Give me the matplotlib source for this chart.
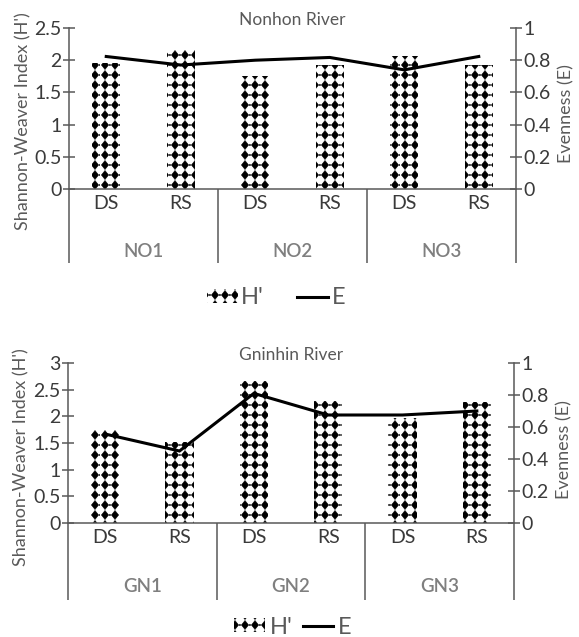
import numpy as np
import matplotlib
matplotlib.use('Agg')
import matplotlib.pyplot as plt
import matplotlib.hatch as mhatch
from matplotlib.path import Path
from matplotlib.ticker import FuncFormatter, MultipleLocator

# ---------------- data ----------------
categories = ['DS', 'RS', 'DS', 'RS', 'DS', 'RS']
groups_top = ['NO1', 'NO2', 'NO3']
groups_bot = ['GN1', 'GN2', 'GN3']
h_top = [1.96, 2.16, 1.76, 1.92, 2.06, 1.93]
e_top = [0.823, 0.77, 0.80, 0.817, 0.74, 0.823]
h_bot = [1.74, 1.52, 2.67, 2.29, 1.96, 2.27]
e_bot = [0.556, 0.45, 0.81, 0.675, 0.675, 0.70]


# ------------- custom diamond hatch ('*' replaced) -------------
class DiamondGrid(mhatch.HatchPatternBase):
    n = 10

    def __init__(self, hatch, density):
        on = hatch.count('*') > 0
        self.num_vertices = (self.n * self.n * 2 * 5) if on else 0

    def set_vertices_and_codes(self, vertices, codes):
        n = self.n
        step = 1.0 / n
        dia = np.array([[0, -0.45], [0.36, 0], [0, 0.45], [-0.36, 0], [0, -0.45]]) * step
        dot = np.array([[0, -0.08], [0.08, 0], [0, 0.08], [-0.08, 0], [0, -0.08]]) * step
        c = np.array([Path.MOVETO, Path.LINETO, Path.LINETO, Path.LINETO, Path.CLOSEPOLY],
                     dtype=Path.code_type)
        vparts, cparts = [], []
        for i in range(n):
            for j in range(n):
                cx = (i + 0.5) * step
                cy = (j + 0.5) * step
                vparts.append(dia + [cx, cy])
                cparts.append(c)
                vparts.append(dot + [(i + 1) * step - 0.001, cy])
                cparts.append(c)
        vertices[:] = np.concatenate(vparts)
        codes[:] = np.concatenate(cparts)


mhatch._hatch_types[:] = [t for t in mhatch._hatch_types if t is not mhatch.Stars] + [DiamondGrid]

plt.rcParams['font.family'] = ['Lato', 'DejaVu Sans']
plt.rcParams['hatch.linewidth'] = 0.35

AX = '#595959'
TICK = '#3a3a3a'
LAB = '#595959'
GRP = '#7f7f7f'

TICKFS = 14
LABFS = 13
TITLEFS = 12.5

fig = plt.figure(figsize=(5.79, 6.37), dpi=100)
W, H = 579.0, 637.0


def panel(left, right, ytop, ybot, div_bottom, title, h, e, groups, hmax,
          ylab_xy, rlab_xy, grp_y, leg_xy, colspacing, textpad):
    rect = [left / W, 1 - ybot / H, (right - left) / W, (ybot - ytop) / H]
    ax = fig.add_axes(rect)
    x = np.arange(len(categories))
    bars = ax.bar(x, h, width=0.38, color='white', edgecolor='black', linewidth=0,
                  hatch='*')
    ax.set_xlim(-0.5, len(categories) - 0.5)
    ax.set_ylim(0, hmax)
    ax.yaxis.set_major_locator(MultipleLocator(0.5))
    ax.yaxis.set_major_formatter(FuncFormatter(lambda v, p: f'{v:g}'))
    ax.set_xticks(x)
    ax.set_xticklabels(categories)
    ax.tick_params(axis='x', length=0, pad=4, labelsize=TICKFS, labelcolor=TICK)
    ax.tick_params(axis='y', direction='inout', length=8, width=1.1, color=AX,
                   labelsize=TICKFS, labelcolor=TICK, pad=1.5)
    for s in ['top', 'right']:
        ax.spines[s].set_visible(False)
    for s in ['left', 'bottom']:
        ax.spines[s].set_color(AX)
        ax.spines[s].set_linewidth(1.1)
    ax.set_title(title, fontsize=TITLEFS, color=LAB, pad=1)
    ax.set_ylabel("Shannon-Weaver Index (H')", fontsize=LABFS, color='#5a5a5a')
    ax.yaxis.label.set_verticalalignment('center')
    ax.yaxis.set_label_coords(*ylab_xy)

    # group dividers
    for b in np.arange(-0.5, len(categories), 2):
        ax.plot([b, b], [0, div_bottom], transform=ax.get_xaxis_transform(),
                clip_on=False, color=AX, lw=1.1, solid_capstyle='butt')
    for i, g in enumerate(groups):
        ax.text(2 * i + 0.5, grp_y, g, transform=ax.get_xaxis_transform(),
                ha='center', va='center', fontsize=13.5, color=GRP,
                fontweight='semibold')

    ax2 = ax.twinx()
    line, = ax2.plot(x, e, color='black', lw=2.2, solid_joinstyle='miter')
    ax2.set_ylim(0, 1)
    ax2.yaxis.set_major_locator(MultipleLocator(0.2))
    ax2.yaxis.set_major_formatter(FuncFormatter(lambda v, p: f'{v:g}'))
    ax2.tick_params(axis='y', direction='inout', length=8, width=1.1, color=AX,
                    labelsize=TICKFS, labelcolor=TICK, pad=1.5)
    for s in ['top', 'left', 'bottom']:
        ax2.spines[s].set_visible(False)
    ax2.spines['right'].set_color(AX)
    ax2.spines['right'].set_linewidth(1.1)
    ax2.set_ylabel('Evenness (E)', fontsize=LABFS, color='#5a5a5a')
    ax2.yaxis.label.set_verticalalignment('center')
    ax2.yaxis.label.set_rotation(90)
    ax2.yaxis.set_label_coords(*rlab_xy)

    fig.legend([bars, line], ["H'", 'E'], loc='center',
               bbox_to_anchor=(leg_xy[0] / W, 1 - leg_xy[1] / H), ncol=2,
               frameon=False, fontsize=17, handlelength=1.3, handleheight=0.55,
               handletextpad=textpad, columnspacing=colspacing, labelcolor=LAB,
               borderpad=0, borderaxespad=0)
    return ax, ax2


panel(69, 516, 28, 189, -0.46, 'Nonhon River', h_top, e_top, groups_top, 2.5,
      (-0.102, 0.42), (1.113, 0.466), -0.39, (276, 298), 1.4, 0.15)
panel(68, 514, 363, 523, -0.48, 'Gninhin River', h_bot, e_bot, groups_bot, 3.0,
      (-0.104, 0.41), (1.114, 0.46), -0.40, (293, 627), 0.42, 0.2)

fig.savefig('out.png', dpi=100)
